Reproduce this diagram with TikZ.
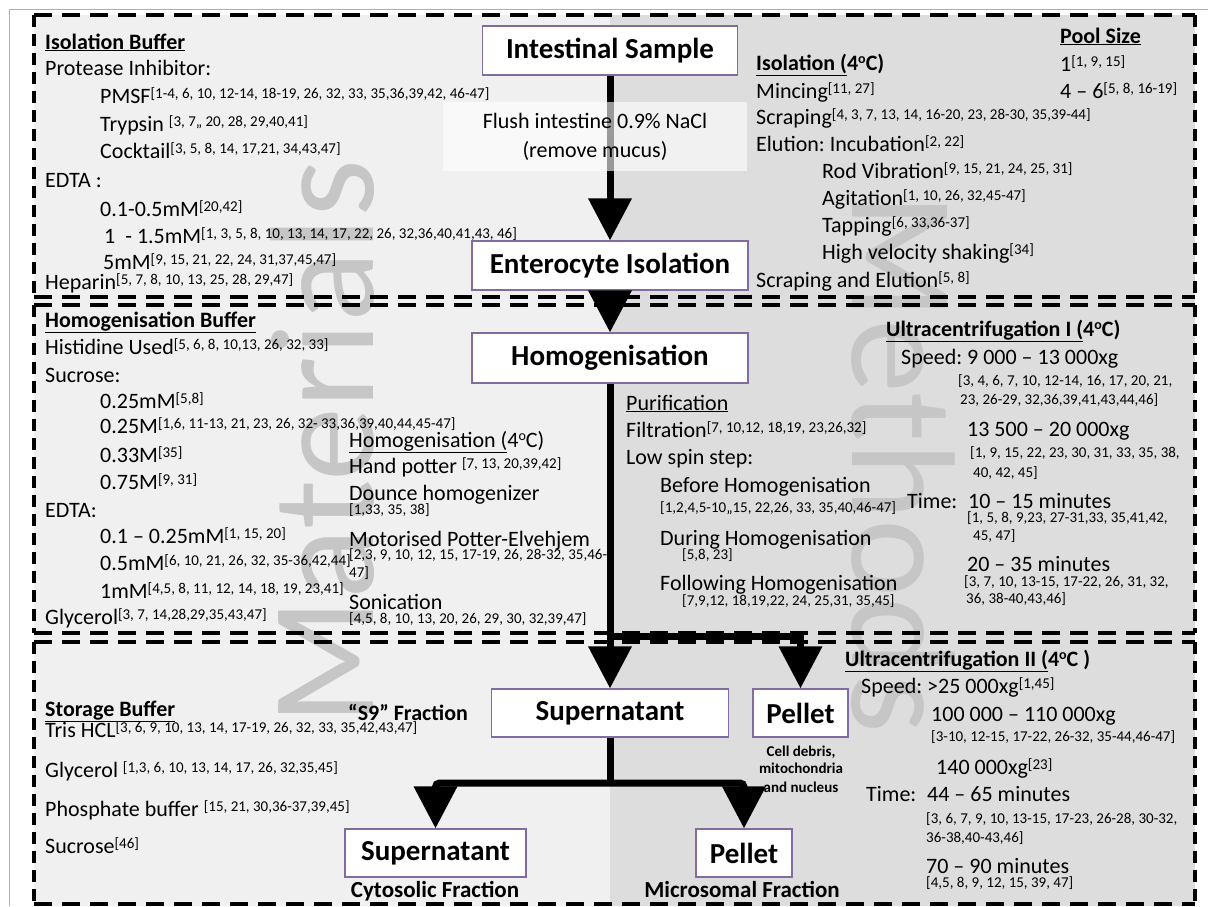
\documentclass[tikz,border=0pt]{standalone}
\usepackage{fontspec}
\setmainfont{Carlito}
\usetikzlibrary{arrows.meta}
\frenchspacing

\definecolor{bgleft}{RGB}{240,240,240}
\definecolor{bgright}{RGB}{221,221,221}
\definecolor{boxline}{RGB}{128,108,160}
\definecolor{wmgray}{RGB}{198,198,198}
\definecolor{rimgray}{RGB}{175,175,175}

\begin{document}
\begin{tikzpicture}[x=1pt, y=-1pt,
  txt/.style={anchor=base west, inner sep=0pt, font=\fontsize{22}{26}\selectfont},
  refline/.style={anchor=base west, inner sep=0pt, font=\fontsize{15}{18}\selectfont},
  capt/.style={anchor=base, inner sep=0pt, font=\fontsize{15}{18}\selectfont\bfseries},
  stage/.style={draw=boxline, line width=1.2pt, fill=white, inner sep=0pt,
    minimum height=49pt, font=\fontsize{29}{34}\selectfont\bfseries},
  flow/.style={line width=7pt, -{Triangle[width=42pt,length=42pt]}},
  stem/.style={line width=7pt},
  hdash/.style={line width=3.5pt, dash pattern=on 18pt off 10pt},
  vdash/.style={line width=3.5pt, dash pattern=on 12pt off 7pt},
  wmark/.style={inner sep=0pt, text=wmgray, font=\fontsize{148}{148}\selectfont}]

\newcommand\refsup[1]{\raisebox{5pt}{\fontsize{15}{15}\selectfont[#1]}}
\newcommand\degsup{\raisebox{7pt}{\fontsize{14}{14}\selectfont o}}

\useasboundingbox (0,0) rectangle (1208,906);
\fill[white] (0,0) rectangle (1208,906);
\fill[bgleft] (34,15) rectangle (610,906);
\fill[bgright] (610,15) rectangle (1195,906);
\draw[rimgray, line width=1pt] (9,906) -- (9,9) -- (1208,9);

\node[wmark, rotate=90, anchor=base west] (wm1) at (373,726) {Materials};
\node[wmark, rotate=-90, anchor=base west] (wm2) at (852,193) {Methods};

\foreach \ya/\yb in {15/297, 305/633, 642/904} {
  \draw[hdash] (34,\ya) -- (1195,\ya);
  \draw[hdash] (34,\yb) -- (1195,\yb);
  \draw[vdash] (34,\ya) -- (34,\yb);
  \draw[vdash] (1195,\ya) -- (1195,\yb);
}

%% isolation buffer
\node[txt] (ib) at (45,49) {\bfseries\underline{Isolation Buffer}};
\node[txt] (ib1) at (45,75) {Protease Inhibitor:};
\node[txt] (ib2) at (100,103) {PMSF\refsup{1-4, 6, 10, 12-14, 18-19, 26, 32, 33, 35,36,39,42, 46-47}};
\node[txt] (ib3) at (100,131) {Trypsin \refsup{3, 7,, 20, 28, 29,40,41}};
\node[txt] (ib4) at (100,158) {Cocktail\refsup{3, 5, 8, 14, 17,21, 34,43,47}};
\node[txt] (ib5) at (45,187) {EDTA :};
\node[txt] (ib6) at (100,216) {0.1-0.5mM\refsup{20,42}};
\node[txt] (ib7) at (104,243) {1 \ - 1.5mM\refsup{1, 3, 5, 8, 10, 13, 14, 17, 22, 26, 32,36,40,41,43, 46}};
\node[txt] (ib8) at (103,269) {5mM\refsup{9, 15, 21, 22, 24, 31,37,45,47}};
\node[txt] (ib9) at (45,289) {Heparin\refsup{5, 7, 8, 10, 13, 25, 28, 29,47}};

%% isolation
\node[txt] (iso) at (756,70) {\bfseries\underline{Isolation (}4\degsup C)};
\node[txt] (iso1) at (756,98) {Mincing\refsup{11, 27}};
\node[txt] (iso2) at (756,124) {Scraping\refsup{4, 3, 7, 13, 14, 16-20, 23, 28-30, 35,39-44}};
\node[txt] (iso3) at (756,151) {Elution: Incubation\refsup{2, 22}};
\node[txt] (iso4) at (822,178) {Rod Vibration\refsup{9, 15, 21, 24, 25, 31}};
\node[txt] (iso5) at (822,205) {Agitation\refsup{1, 10, 26, 32,45-47}};
\node[txt] (iso6) at (822,232) {Tapping\refsup{6, 33,36-37}};
\node[txt] (iso7) at (822,259) {High velocity shaking\refsup{34}};
\node[txt] (iso8) at (756,287) {Scraping and Elution\refsup{5, 8}};
\node[txt] (pool) at (1060,43) {\bfseries\underline{Pool Size}};
\node[txt] (pool1) at (1060,71) {1\refsup{1, 9, 15}};
\node[txt] (pool2) at (1060,98) {4 – 6\refsup{5, 8, 16-19}};

%% homogenisation buffer
\node[txt] (hb) at (45,327) {\bfseries\underline{Homogenisation Buffer}};
\node[txt] (hb1) at (45,354) {Histidine Used\refsup{5, 6, 8, 10,13, 26, 32, 33}};
\node[txt] (hb2) at (45,382) {Sucrose:};
\node[txt] (hb3) at (100,408) {0.25mM\refsup{5,8}};
\node[txt] (hb4) at (100,433) {0.25M\refsup{1,6, 11-13, 21, 23, 26, 32- 33,36,39,40,44,45-47}};
\node[txt] (hb5) at (100,462) {0.33M\refsup{35}};
\node[txt] (hb6) at (100,489) {0.75M\refsup{9, 31}};
\node[txt] (hb7) at (45,517) {EDTA:};
\node[txt] (hb8) at (100,543) {0.1 – 0.25mM\refsup{1, 15, 20}};
\node[txt] (hb9) at (100,570) {0.5mM\refsup{6, 10, 21, 26, 32, 35-36,42,44}};
\node[txt] (hb10) at (100,598) {1mM\refsup{4,5, 8, 11, 12, 14, 18, 19, 23,41}};
\node[txt] (hb11) at (45,624) {Glycerol\refsup{3, 7, 14,28,29,35,43,47}};

%% homogenisation
\node[txt] (hm) at (349,447) {\underline{Homogenisation (}4\degsup C)};
\node[txt] (hm1) at (349,473) {Hand potter \refsup{7, 13, 20,39,42}};
\node[txt] (hm2) at (349,500) {Dounce homogenizer};
\node[refline] (hm2r) at (349,514) {[1,33, 35, 38]};
\node[txt] (hm3) at (349,546) {Motorised Potter-Elvehjem};
\node[refline] (hm3r) at (349,559) {[2,3, 9, 10, 12, 15, 17-19, 26, 28-32, 35,46-};
\node[refline] (hm3s) at (349,577) {47]};
\node[txt] (hm4) at (349,609) {Sonication};
\node[refline] (hm4r) at (349,623) {[4,5, 8, 10, 13, 20, 26, 29, 30, 32,39,47]};

%% purification
\node[txt] (pu) at (626,410) {\underline{Purification}};
\node[txt] (pu1) at (626,437) {Filtration\refsup{7, 10,12, 18,19, 23,26,32}};
\node[txt] (pu2) at (626,464) {Low spin step:};
\node[txt] (pu3) at (660,492) {Before Homogenisation};
\node[refline] (pu3r) at (660,512) {[1,2,4,5-10,,15, 22,26, 33, 35,40,46-47]};
\node[txt] (pu4) at (660,545) {During Homogenisation};
\node[refline] (pu4r) at (682,559) {[5,8, 23]};
\node[txt] (pu5) at (660,590) {Following Homogenisation};
\node[refline] (pu5r) at (682,605) {[7,9,12, 18,19,22, 24, 25,31, 35,45]};

%% ultracentrifugation I
\node[txt] (uc) at (886,336) {\bfseries\underline{Ultracentrifugation I (}4\degsup C)};
\node[txt] (uc1) at (901,364) {Speed: 9 000 – 13 000xg};
\node[refline] (uc1r) at (958,385) {[3, 4, 6, 7, 10, 12-14, 16, 17, 20, 21,};
\node[refline] (uc1s) at (960,404) {23, 26-29, 32,36,39,41,43,44,46]};
\node[txt] (uc2) at (967,436) {13 500 – 20 000xg};
\node[refline] (uc2r) at (970,457) {[1, 9, 15, 22, 23, 30, 31, 33, 35, 38,};
\node[refline] (uc2s) at (973,477) {40, 42, 45]};
\node[txt] (uct) at (907,508) {Time:};
\node[txt] (uc3) at (968,508) {10 – 15 minutes};
\node[refline] (uc3r) at (967,522) {[1, 5, 8, 9,23, 27-31,33, 35,41,42,};
\node[refline] (uc3s) at (973,540) {45, 47]};
\node[txt] (uc4) at (967,571) {20 – 35 minutes};
\node[refline] (uc4r) at (964,586) {[3, 7, 10, 13-15, 17-22, 26, 31, 32,};
\node[refline] (uc4s) at (966,603) {36, 38-40,43,46]};

%% ultracentrifugation II
\node[txt] (ud) at (845,666) {\bfseries\underline{Ultracentrifugation II (}4\degsup C )};
\node[txt] (ud1) at (861,693) {Speed: >25 000xg\refsup{1,45}};
\node[txt] (ud2) at (931,721) {100 000 – 110 000xg};
\node[refline] (ud2r) at (931,741) {[3-10, 12-15, 17-22, 26-32, 35-44,46-47]};
\node[txt] (ud3) at (936,774) {140 000xg\refsup{23}};
\node[txt] (udt) at (866,801) {Time:};
\node[txt] (ud4) at (927,801) {44 – 65 minutes};
\node[refline] (ud4r) at (926,823) {[3, 6, 7, 9, 10, 13-15, 17-23, 26-28, 30-32,};
\node[refline] (ud4s) at (926,842) {36-38,40-43,46]};
\node[txt] (ud5) at (926,873) {70 – 90 minutes};
\node[refline] (ud5r) at (926,887) {[4,5, 8, 9, 12, 15, 39, 47]};

%% storage buffer
\node[txt] (sb) at (45,716) {\bfseries\underline{Storage Buffer}};
\node[txt] (sb1) at (45,737) {Tris HCL\refsup{3, 6, 9, 10, 13, 14, 17-19, 26, 32, 33, 35,42,43,47}};
\node[txt] (sb2) at (45,777) {Glycerol \refsup{1,3, 6, 10, 13, 14, 17, 26, 32,35,45}};
\node[txt] (sb3) at (45,816) {Phosphate buffer \refsup{15, 21, 30,36-37,39,45}};
\node[txt] (sb4) at (45,853) {Sucrose\refsup{46}};
\node[txt] (s9) at (348,720) {\bfseries “S9” Fraction};

%% flow chart
\node[stage, minimum width=255pt] (sample) at (610,50.5) {Intestinal Sample};
\node[stage, minimum width=276pt] (entero) at (610,265.5) {Enterocyte Isolation};
\node[stage, minimum width=276pt, minimum height=50pt] (homog) at (610,358) {Homogenisation};
\node[stage, minimum width=237pt, minimum height=48pt] (super) at (610,713) {Supernatant};
\node[stage, minimum width=95pt, minimum height=48pt] (pellet) at (800.5,713) {Pellet};
\node[stage, minimum width=181pt, minimum height=48pt] (cyto) at (435.5,853) {Supernatant};
\node[stage, minimum width=96pt, minimum height=48pt] (micro) at (744,853) {Pellet};

\node[capt] (deb1) at (801,756) {Cell debris,};
\node[capt] (deb2) at (801,773) {mitochondria};
\node[capt] (deb3) at (801,792) {and nucleus};
\node[capt, font=\fontsize{23}{26}\selectfont\bfseries] (cyf) at (435,897) {Cytosolic Fraction};
\node[capt, font=\fontsize{23}{26}\selectfont\bfseries] (mcf) at (742,897) {Microsomal Fraction};

\coordinate (split) at (610,636);
\coordinate (fork) at (610,783);
\draw[flow] (sample) -- (entero);
\draw[flow] (entero) -- (homog);
\draw[flow] (homog) -- (super);
\draw[flow] (split) -| (pellet);
\draw[stem] (super) -- (fork);
\draw[flow, rounded corners=4pt] (fork) -| (cyto);
\draw[flow, rounded corners=4pt] (fork) -| (micro);

\node[fill=white, fill opacity=0.6, text opacity=1, inner sep=0pt,
  minimum width=304pt, minimum height=69pt, align=center,
  font=\fontsize{22}{29}\selectfont] (flush) at (595,136.5)
  {Flush intestine 0.9\% NaCl\\(remove mucus)};

\end{tikzpicture}
\end{document}
